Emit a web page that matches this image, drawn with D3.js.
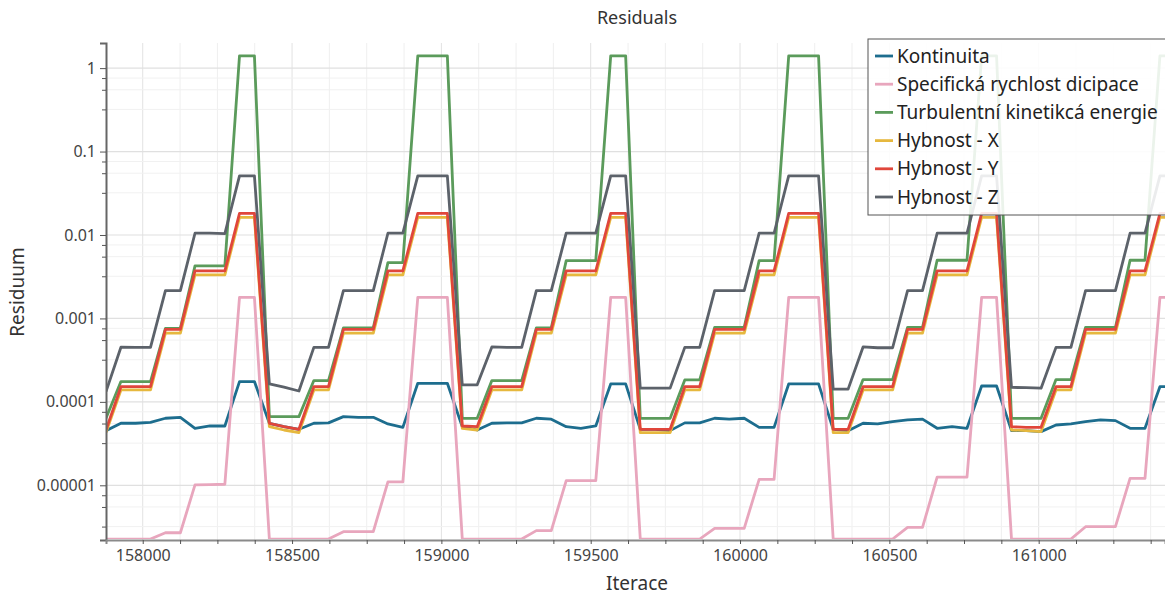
<!DOCTYPE html>
<html>
<head>
<meta charset="utf-8">
<script src="https://d3js.org/d3.v7.min.js"></script>
<style>
    body { margin: 0; padding: 0; background: #fff; }
    svg { display: block; font-family: "Noto Sans", "Open Sans", sans-serif; }
</style>
</head>
<body>
<div id="chart"></div>
<script>
// iterations (x), one sample about every 50 iterations
var iterations = [
    157877, 157927, 157976, 158026, 158076, 158126, 158175, 158225, 158275, 158324,
    158374, 158424, 158473, 158523, 158573, 158622, 158672, 158722, 158772, 158821,
    158871, 158921, 158970, 159020, 159070, 159120, 159169, 159219, 159269, 159318,
    159368, 159418, 159467, 159517, 159567, 159617, 159666, 159716, 159766, 159815,
    159865, 159915, 159964, 160014, 160064, 160114, 160163, 160213, 160263, 160312,
    160362, 160412, 160461, 160511, 160561, 160611, 160660, 160710, 160760, 160809,
    160859, 160909, 160958, 161008, 161058, 161108, 161157, 161207, 161257, 161306,
    161356, 161406, 161455
];

var kontinuita = [
    4.52e-5, 5.54e-5, 5.54e-5, 5.69e-5, 6.36e-5, 6.53e-5, 4.82e-5, 5.14e-5, 5.14e-5, 1.75e-4,
    1.75e-4, 5.54e-5, 5.04e-5, 4.69e-5, 5.54e-5, 5.6e-5, 6.65e-5, 6.53e-5, 6.53e-5, 5.44e-5,
    4.95e-5, 1.67e-4, 1.67e-4, 1.67e-4, 5.04e-5, 4.6e-5, 5.54e-5, 5.6e-5, 5.6e-5, 6.36e-5,
    6.2e-5, 5.04e-5, 4.82e-5, 5.14e-5, 1.64e-4, 1.64e-4, 4.69e-5, 4.69e-5, 4.52e-5, 5.6e-5,
    5.6e-5, 6.36e-5, 6.2e-5, 6.36e-5, 4.95e-5, 4.95e-5, 1.64e-4, 1.64e-4, 1.64e-4, 4.69e-5,
    4.52e-5, 5.54e-5, 5.44e-5, 5.8e-5, 6.07e-5, 6.2e-5, 4.82e-5, 5.04e-5, 4.82e-5, 1.55e-4,
    1.55e-4, 4.52e-5, 4.52e-5, 4.4e-5, 5.28e-5, 5.44e-5, 5.8e-5, 6.07e-5, 5.96e-5, 4.82e-5,
    4.82e-5, 1.52e-4, 1.52e-4
];

var specificka = [
    2.27e-6, 2.27e-6, 2.27e-6, 2.27e-6, 2.7e-6, 2.7e-6, 1.01e-5, 1.02e-5, 1.03e-5, 1.79e-3,
    1.79e-3, 2.27e-6, 2.27e-6, 2.27e-6, 2.27e-6, 2.27e-6, 2.78e-6, 2.78e-6, 2.78e-6, 1.1e-5,
    1.1e-5, 1.79e-3, 1.79e-3, 1.79e-3, 2.27e-6, 2.27e-6, 2.27e-6, 2.27e-6, 2.27e-6, 2.86e-6,
    2.86e-6, 1.14e-5, 1.14e-5, 1.14e-5, 1.79e-3, 1.79e-3, 2.27e-6, 2.27e-6, 2.27e-6, 2.27e-6,
    2.27e-6, 3.05e-6, 3.05e-6, 3.05e-6, 1.18e-5, 1.18e-5, 1.79e-3, 1.79e-3, 1.79e-3, 2.27e-6,
    2.27e-6, 2.27e-6, 2.27e-6, 2.27e-6, 3.13e-6, 3.13e-6, 1.25e-5, 1.25e-5, 1.25e-5, 1.79e-3,
    1.79e-3, 2.27e-6, 2.27e-6, 2.27e-6, 2.27e-6, 2.27e-6, 3.19e-6, 3.19e-6, 3.19e-6, 1.21e-5,
    1.21e-5, 1.79e-3, 1.79e-3
];

var turbulentni = [
    6.35e-5, 1.75e-4, 1.75e-4, 1.75e-4, 7.6e-4, 7.6e-4, 4.26e-3, 4.26e-3, 4.26e-3, 1.4,
    1.4, 6.65e-5, 6.65e-5, 6.65e-5, 1.8e-4, 1.8e-4, 7.7e-4, 7.7e-4, 7.7e-4, 4.67e-3,
    4.67e-3, 1.4, 1.4, 1.4, 6.35e-5, 6.35e-5, 1.8e-4, 1.8e-4, 1.8e-4, 7.7e-4,
    7.7e-4, 4.93e-3, 4.93e-3, 4.93e-3, 1.4, 1.4, 6.35e-5, 6.35e-5, 6.35e-5, 1.83e-4,
    1.83e-4, 7.8e-4, 7.8e-4, 7.8e-4, 4.93e-3, 4.93e-3, 1.4, 1.4, 1.4, 6.35e-5,
    6.35e-5, 1.85e-4, 1.85e-4, 1.85e-4, 7.8e-4, 7.8e-4, 4.98e-3, 4.98e-3, 4.98e-3, 1.4,
    1.4, 6.35e-5, 6.35e-5, 6.35e-5, 1.85e-4, 1.85e-4, 7.8e-4, 7.8e-4, 7.8e-4, 4.98e-3,
    4.98e-3, 1.4, 1.4
];

var hybnostX = [
    4.28e-5, 1.39e-4, 1.39e-4, 1.39e-4, 6.65e-4, 6.65e-4, 3.32e-3, 3.32e-3, 3.32e-3, 0.0163,
    0.0163, 5.04e-5, 4.6e-5, 4.28e-5, 1.39e-4, 1.39e-4, 6.65e-4, 6.65e-4, 6.65e-4, 3.32e-3,
    3.32e-3, 0.0163, 0.0163, 0.0163, 4.82e-5, 4.6e-5, 1.39e-4, 1.39e-4, 1.39e-4, 6.65e-4,
    6.65e-4, 3.32e-3, 3.32e-3, 3.32e-3, 0.0163, 0.0163, 4.28e-5, 4.28e-5, 4.28e-5, 1.39e-4,
    1.39e-4, 6.65e-4, 6.65e-4, 6.65e-4, 3.32e-3, 3.32e-3, 0.0163, 0.0163, 0.0163, 4.28e-5,
    4.28e-5, 1.39e-4, 1.39e-4, 1.39e-4, 6.65e-4, 6.65e-4, 3.32e-3, 3.32e-3, 3.32e-3, 0.0163,
    0.0163, 4.6e-5, 4.52e-5, 4.4e-5, 1.39e-4, 1.39e-4, 6.65e-4, 6.65e-4, 6.65e-4, 3.32e-3,
    3.32e-3, 0.0163, 0.0163
];

var hybnostY = [
    4.6e-5, 1.52e-4, 1.52e-4, 1.52e-4, 7.4e-4, 7.4e-4, 3.71e-3, 3.71e-3, 3.71e-3, 0.0182,
    0.0182, 5.54e-5, 5.04e-5, 4.69e-5, 1.52e-4, 1.52e-4, 7.4e-4, 7.4e-4, 7.4e-4, 3.71e-3,
    3.71e-3, 0.0182, 0.0182, 0.0182, 5.14e-5, 5.04e-5, 1.52e-4, 1.52e-4, 1.52e-4, 7.4e-4,
    7.4e-4, 3.71e-3, 3.71e-3, 3.71e-3, 0.0182, 0.0182, 4.69e-5, 4.69e-5, 4.69e-5, 1.52e-4,
    1.52e-4, 7.4e-4, 7.4e-4, 7.4e-4, 3.71e-3, 3.71e-3, 0.0182, 0.0182, 0.0182, 4.69e-5,
    4.69e-5, 1.52e-4, 1.52e-4, 1.52e-4, 7.4e-4, 7.4e-4, 3.71e-3, 3.71e-3, 3.71e-3, 0.0182,
    0.0182, 5.04e-5, 4.95e-5, 4.95e-5, 1.52e-4, 1.52e-4, 7.4e-4, 7.4e-4, 7.4e-4, 3.71e-3,
    3.71e-3, 0.0182, 0.0182
];

var hybnostZ = [
    1.33e-4, 4.52e-4, 4.5e-4, 4.5e-4, 2.15e-3, 2.15e-3, 0.0105, 0.0105, 0.0104, 0.051,
    0.051, 1.64e-4, 1.5e-4, 1.35e-4, 4.5e-4, 4.5e-4, 2.15e-3, 2.15e-3, 2.15e-3, 0.0105,
    0.0105, 0.051, 0.051, 0.051, 1.6e-4, 1.6e-4, 4.55e-4, 4.5e-4, 4.5e-4, 2.15e-3,
    2.15e-3, 0.0105, 0.0105, 0.0105, 0.051, 0.051, 1.46e-4, 1.46e-4, 1.46e-4, 4.5e-4,
    4.5e-4, 2.15e-3, 2.15e-3, 2.15e-3, 0.0105, 0.0105, 0.051, 0.051, 0.051, 1.42e-4,
    1.42e-4, 4.55e-4, 4.45e-4, 4.45e-4, 2.15e-3, 2.15e-3, 0.0105, 0.0105, 0.0105, 0.051,
    0.051, 1.49e-4, 1.48e-4, 1.46e-4, 4.5e-4, 4.5e-4, 2.15e-3, 2.15e-3, 2.15e-3, 0.0105,
    0.0105, 0.051, 0.051
];

var seriesNames = ["Kontinuita", "Specifická rychlost dicipace", "Turbulentní kinetikcá energie",
                   "Hybnost - X", "Hybnost - Y", "Hybnost - Z"];
var seriesColors = ["#1d6d8e", "#e8a6bd", "#5b9b5b", "#e6b83e", "#e0463b", "#5c626a"];

var yTickValues = [1e-5, 1e-4, 1e-3, 1e-2, 1e-1, 1];
var yTickLabels = ["0.00001", "0.0001", "0.001", "0.01", "0.1", "1"];
var yMinorFactors = [3.2, 5.5, 7.6];
var xTickValues = [158000, 158500, 159000, 159500, 160000, 160500, 161000];
var xMinorStep = 125;

// layout
var W = 1165, H = 597;
var plot = { left: 106, right: 1165, top: 43, bottom: 540 };

var svg = d3.select("#chart").append("svg")
    .attr("width", W)
    .attr("height", H);

var x = d3.scaleLinear()
    .domain([157877, 161423])
    .range([plot.left, plot.right]);

var y = d3.scaleLog()
    .domain([2.21e-6, 2.0])
    .range([plot.bottom, plot.top]);

// minor positions
var xMinor = d3.range(157875, 161500, xMinorStep).filter(function (v) { return v >= x.domain()[0] - 1; });
var yMinor = [];
[1e-6, 1e-5, 1e-4, 1e-3, 1e-2, 1e-1, 1].forEach(function (d) {
    yMinorFactors.forEach(function (f) {
        var v = d * f;
        if (v > y.domain()[0] && v < y.domain()[1]) yMinor.push(v);
    });
});

// grid
var grid = svg.append("g");
grid.selectAll(".vg").data(xMinor).enter().append("line")
    .attr("x1", function (d) { return x(d); })
    .attr("x2", function (d) { return x(d); })
    .attr("y1", plot.top).attr("y2", plot.bottom)
    .attr("stroke", function (d) { return d % 500 == 0 ? "#e2e2e2" : "#efefef"; })
    .attr("stroke-width", 1);
grid.selectAll(".hgm").data(yMinor).enter().append("line")
    .attr("x1", plot.left).attr("x2", plot.right)
    .attr("y1", function (d) { return y(d); })
    .attr("y2", function (d) { return y(d); })
    .attr("stroke", "#f1f1f1").attr("stroke-width", 1);
grid.selectAll(".hg").data(yTickValues).enter().append("line")
    .attr("x1", plot.left).attr("x2", plot.right)
    .attr("y1", function (d) { return y(d); })
    .attr("y2", function (d) { return y(d); })
    .attr("stroke", "#e0e0e0").attr("stroke-width", 1.2);

// lines
svg.append("clipPath").attr("id", "clip")
    .append("rect")
    .attr("x", plot.left).attr("y", plot.top - 2)
    .attr("width", plot.right - plot.left + 20)
    .attr("height", plot.bottom - plot.top + 1);

var allSeries = [kontinuita, specificka, turbulentni, hybnostX, hybnostY, hybnostZ];

var line = d3.line()
    .x(function (d, i) { return x(iterations[i]); })
    .y(function (d) { return y(d); });

svg.append("g").attr("clip-path", "url(#clip)")
    .selectAll("path")
    .data(allSeries)
    .enter()
    .append("path")
    .attr("d", function (d) { return line(d); })
    .attr("fill", "none")
    .attr("stroke", function (d, i) { return seriesColors[i]; })
    .attr("stroke-width", 2.8)
    .attr("stroke-linejoin", "round");

// axes
var yAxis = svg.append("g")
    .attr("transform", "translate(" + plot.left + ",0)")
    .call(d3.axisLeft(y).tickValues(yTickValues)
        .tickFormat(function (d, i) { return yTickLabels[i]; })
        .tickSize(6).tickPadding(4));
svg.append("g")
    .attr("transform", "translate(" + plot.left + ",0)")
    .call(d3.axisLeft(y).tickValues(yMinor).tickFormat("").tickSize(4))
    .call(function (g) { g.select(".domain").remove(); });

yAxis.select(".domain").attr("stroke", "#666").attr("stroke-width", 2);

var xAxis = svg.append("g")
    .attr("transform", "translate(0," + plot.bottom + ")")
    .call(d3.axisBottom(x).tickValues(xTickValues)
        .tickFormat(d3.format("d"))
        .tickSize(4).tickPadding(6));
svg.append("g")
    .attr("transform", "translate(0," + plot.bottom + ")")
    .call(d3.axisBottom(x).tickValues(xMinor.filter(function (d) { return d % 500 != 0; })).tickFormat("").tickSize(4))
    .call(function (g) { g.select(".domain").remove(); });
xAxis.select(".domain").attr("stroke", "#8a8a8a").attr("stroke-width", 2);

svg.selectAll(".tick line").attr("stroke", "#555");
svg.selectAll(".tick text")
    .attr("fill", "#444")
    .style("font-size", "16px")
    .style("font-family", "'Noto Sans', 'Open Sans', sans-serif");

// titles
svg.append("text")
    .attr("x", 637).attr("y", 24)
    .attr("text-anchor", "middle")
    .attr("fill", "#333")
    .style("font-size", "18px")
    .text("Residuals");

svg.append("text")
    .attr("x", 637).attr("y", 590)
    .attr("text-anchor", "middle")
    .attr("fill", "#333")
    .style("font-size", "19px")
    .text("Iterace");

svg.append("text")
    .attr("transform", "translate(24,292) rotate(-90)")
    .attr("text-anchor", "middle")
    .attr("fill", "#333")
    .style("font-size", "19px")
    .text("Residuum");

// legend
var legend = svg.append("g").attr("transform", "translate(868,39)");
legend.append("rect")
    .attr("x", 0).attr("y", 0)
    .attr("width", 330).attr("height", 176)
    .attr("fill", "#fff").attr("fill-opacity", 0.88)
    .attr("stroke", "#555").attr("stroke-width", 1);

var rows = legend.selectAll(".row")
    .data(seriesNames)
    .enter()
    .append("g")
    .attr("transform", function (d, i) { return "translate(0," + (17 + i * 28.2) + ")"; });
rows.append("line")
    .attr("x1", 7).attr("x2", 25)
    .attr("stroke", function (d, i) { return seriesColors[i]; })
    .attr("stroke-width", 2.8);
rows.append("text")
    .attr("x", 29).attr("y", 0)
    .attr("dy", "0.35em")
    .attr("fill", "#222")
    .style("font-size", "19px")
    .text(function (d) { return d; });
</script>
</body>
</html>
